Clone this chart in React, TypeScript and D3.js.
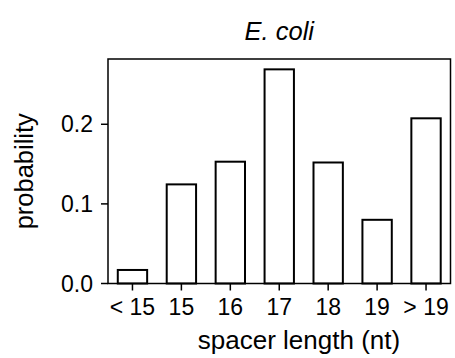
import React from "react";
import * as d3 from "d3";

const categories = ["< 15", "15", "16", "17", "18", "19", "> 19"];
const probabilities = [0.017, 0.1245, 0.153, 0.269, 0.152, 0.08, 0.2075];
const yTicks = [0.0, 0.1, 0.2];
const title = "E. coli";
const xLabel = "spacer length (nt)";
const yLabel = "probability";

const W = 455;
const H = 358;
const left = 108;
const right = 450.5;
const top = 59;
const bottom = 283.5;
const font = "'Liberation Sans', Arial, Helvetica, sans-serif";
const fs = 23;
const lfs = 25.5;

export default function App() {
  const x = d3.scaleLinear().domain([-0.5, 6.5]).range([left, right]);
  const y = d3.scaleLinear().domain([0, 0.282]).range([bottom, top]);
  const bw = (x(1) - x(0)) * 0.6;
  return (
    <svg width={W} height={H} style={{ position: "absolute", left: 0, top: 0, background: "#fff" }}>
      <rect x={0} y={0} width={W} height={H} fill="#fff" />
      {probabilities.map((v, i) => (
        <rect
          key={i}
          x={x(i) - bw / 2}
          y={y(v)}
          width={bw}
          height={y(0) - y(v)}
          fill="#fff"
          stroke="#000"
          strokeWidth={2}
        />
      ))}
      <rect x={left} y={top} width={right - left} height={bottom - top} fill="none" stroke="#000" strokeWidth={1.5} />
      {yTicks.map((t) => (
        <g key={t}>
          <line x1={left - 7} x2={left} y1={y(t)} y2={y(t)} stroke="#000" strokeWidth={1.5} />
          <text x={left - 15} y={y(t) + 8.2} textAnchor="end" fontFamily={font} fontSize={fs} fill="#000">
            {t.toFixed(1)}
          </text>
        </g>
      ))}
      {categories.map((c, i) => (
        <g key={c}>
          <line x1={x(i)} x2={x(i)} y1={bottom} y2={bottom + 7} stroke="#000" strokeWidth={1.5} />
          <text x={x(i)} y={314.5} textAnchor="middle" fontFamily={font} fontSize={fs} fill="#000">
            {c}
          </text>
        </g>
      ))}
      <text x={(left + right) / 2} y={40} textAnchor="middle" fontFamily={font} fontSize={lfs} fontStyle="italic" fill="#000">
        {title}
      </text>
      <text x={299} y={348.5} textAnchor="middle" fontFamily={font} fontSize={26} fill="#000">
        {xLabel}
      </text>
      <text
        transform={`translate(${33},${(top + bottom) / 2}) rotate(-90)`}
        textAnchor="middle"
        fontFamily={font}
        fontSize={lfs}
        fill="#000"
      >
        {yLabel}
      </text>
    </svg>
  );
}
